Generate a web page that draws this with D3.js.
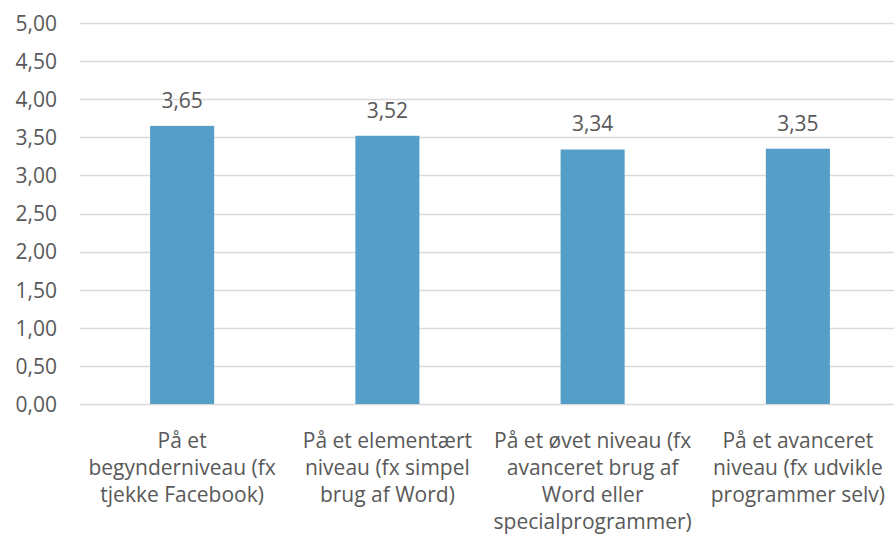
<!DOCTYPE html>
<html>
<head>
<meta charset="utf-8">
<script src="https://cdn.jsdelivr.net/npm/d3@7"></script>
<style>
  html, body { margin: 0; padding: 0; background: #fff; }
  svg { display: block; }
  text { font-family: "Open Sans", sans-serif; fill: #595959; }
</style>
</head>
<body>
<svg id="chart" width="894" height="535"></svg>
<script>
// Data
const categories = [
  "På et\nbegynderniveau (fx\ntjekke Facebook)",
  "På et elementært\nniveau (fx simpel\nbrug af Word)",
  "På et øvet niveau (fx\navanceret brug af\nWord eller\nspecialprogrammer)",
  "På et avanceret\nniveau (fx udvikle\nprogrammer selv)"
];
const values = [3.65, 3.52, 3.34, 3.35];
const yTicks = [0, 0.5, 1, 1.5, 2, 2.5, 3, 3.5, 4, 4.5, 5];

const svg = d3.select("#chart");
const fmt = v => d3.format(".2f")(v).replace(".", ",");
const FS = 21;

const x = d3.scaleBand()
  .domain(categories)
  .range([79.5, 900.5])
  .paddingInner(0.688)
  .paddingOuter(0.344);

const y = d3.scaleLinear().domain([0, 5]).range([404, 23]);

// gridlines
svg.append("g")
  .selectAll("line")
  .data(yTicks)
  .join("line")
  .attr("x1", 80)
  .attr("x2", 894)
  .attr("y1", d => Math.round(y(d)) + 0.5)
  .attr("y2", d => Math.round(y(d)) + 0.5)
  .attr("stroke", "#d9d9d9")
  .attr("stroke-width", 1.5);

// y axis labels
const yAxis = d3.axisLeft(y).tickValues(yTicks).tickFormat(fmt).tickSize(0).tickPadding(0);
const gy = svg.append("g").attr("transform", "translate(57,0)").call(yAxis);
gy.select(".domain").remove();
gy.selectAll("text")
  .attr("font-size", FS)
  .attr("fill", "#595959")
  .attr("font-family", "'Open Sans', sans-serif")
  .attr("dy", "0.35em");

// bars
svg.append("g")
  .selectAll("rect")
  .data(values)
  .join("rect")
  .attr("x", (d, i) => x(categories[i]))
  .attr("width", x.bandwidth())
  .attr("y", d => y(d))
  .attr("height", d => y(0) - y(d))
  .attr("fill", "#549ec8");

// value labels
svg.append("g")
  .selectAll("text")
  .data(values)
  .join("text")
  .attr("x", (d, i) => x(categories[i]) + x.bandwidth() / 2)
  .attr("y", d => y(d) - 18)
  .attr("text-anchor", "middle")
  .attr("font-size", FS)
  .text(d => fmt(d));

// category labels
const xAxis = d3.axisBottom(x).tickSize(0).tickFormat("");
const gx = svg.append("g").attr("transform", "translate(0,404)").call(xAxis);
gx.select(".domain").remove();
gx.selectAll(".tick").each(function(d) {
  const t = d3.select(this).append("text")
    .attr("text-anchor", "middle")
    .attr("font-size", FS)
    .attr("fill", "#595959");
  d.split("\n").forEach((line, j) => {
    t.append("tspan")
      .attr("x", 0)
      .attr("y", 44 + j * 27)
      .text(line);
  });
});
</script>
</body>
</html>
